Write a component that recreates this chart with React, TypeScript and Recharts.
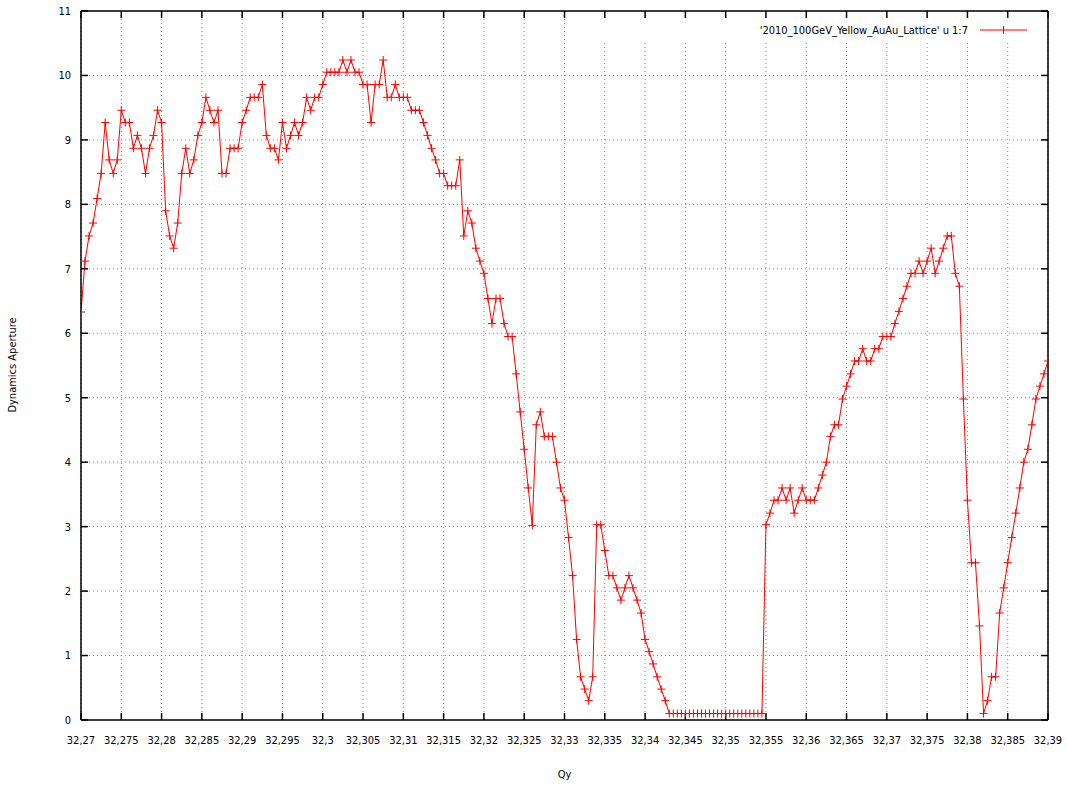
import React from "react";
import { LineChart, Line, XAxis, YAxis, CartesianGrid, Customized } from "recharts";

// tune scan: Qy sampled every 0.0005 from 32.27
const QY_START = 32.27;
const QY_STEP = 0.0005;

// dynamic aperture, one value per Qy sample
const APERTURE = [
  6.33, 7.12, 7.51, 7.71, 8.09, 8.48, 9.27, 8.69, 8.48, 8.69,
  9.46, 9.27, 9.27, 8.87, 9.07, 8.87, 8.48, 8.87, 9.07, 9.46,
  9.27, 7.9, 7.51, 7.32, 7.71, 8.48, 8.87, 8.48, 8.69, 9.07,
  9.27, 9.66, 9.46, 9.27, 9.46, 8.48, 8.48, 8.87, 8.87, 8.87,
  9.27, 9.46, 9.66, 9.66, 9.66, 9.86, 9.07, 8.87, 8.87, 8.69,
  9.27, 8.87, 9.07, 9.27, 9.07, 9.27, 9.66, 9.46, 9.66, 9.66,
  9.86, 10.05, 10.05, 10.05, 10.05, 10.24, 10.05, 10.24, 10.05, 10.05,
  9.86, 9.86, 9.27, 9.86, 9.86, 10.24, 9.66, 9.66, 9.86, 9.66,
  9.66, 9.66, 9.46, 9.46, 9.46, 9.27, 9.07, 8.87, 8.69, 8.48,
  8.48, 8.29, 8.29, 8.29, 8.69, 7.51, 7.9, 7.71, 7.32, 7.12,
  6.93, 6.54, 6.15, 6.54, 6.54, 6.15, 5.95, 5.95, 5.37, 4.78,
  4.2, 3.6, 3.02, 4.58, 4.78, 4.4, 4.4, 4.4, 4.0, 3.6,
  3.41, 2.83, 2.24, 1.25, 0.67, 0.48, 0.3, 0.67, 3.03, 3.03,
  2.63, 2.24, 2.24, 2.05, 1.86, 2.05, 2.24, 2.05, 1.86, 1.66,
  1.25, 1.06, 0.87, 0.67, 0.48, 0.3, 0.1, 0.1, 0.1, 0.1,
  0.1, 0.1, 0.1, 0.1, 0.1, 0.1, 0.1, 0.1, 0.1, 0.1,
  0.1, 0.1, 0.1, 0.1, 0.1, 0.1, 0.1, 0.1, 0.1, 0.1,
  3.03, 3.21, 3.41, 3.41, 3.6, 3.41, 3.6, 3.21, 3.41, 3.6,
  3.41, 3.41, 3.41, 3.6, 3.8, 4.0, 4.4, 4.58, 4.58, 4.98,
  5.18, 5.37, 5.57, 5.57, 5.76, 5.57, 5.57, 5.76, 5.76, 5.95,
  5.95, 5.95, 6.15, 6.34, 6.54, 6.73, 6.93, 6.93, 7.12, 6.93,
  7.12, 7.32, 6.93, 7.12, 7.32, 7.51, 7.51, 6.93, 6.73, 4.98,
  3.41, 2.44, 2.44, 1.46, 0.1, 0.3, 0.67, 0.67, 1.66, 2.05,
  2.44, 2.83, 3.21, 3.6, 4.0, 4.2, 4.58, 4.98, 5.18, 5.37,
  5.57,
];

const X_TICKS = [
  32.27, 32.275, 32.28, 32.285, 32.29, 32.295, 32.3, 32.305, 32.31, 32.315,
  32.32, 32.325, 32.33, 32.335, 32.34, 32.345, 32.35, 32.355, 32.36, 32.365,
  32.37, 32.375, 32.38, 32.385, 32.39,
];
const Y_TICKS = [0, 1, 2, 3, 4, 5, 6, 7, 8, 9, 10, 11];

const SERIES_NAME = "'2010_100GeV_Yellow_AuAu_Lattice' u 1:7";
const X_TITLE = "Qy";
const Y_TITLE = "Dynamics Aperture";

const FONT = '"Liberation Sans Narrow", "DejaVu Sans Condensed", "Liberation Sans", sans-serif';
const RED = "#ff0000";

const data = APERTURE.map((da, i) => ({
  qy: +(QY_START + i * QY_STEP).toFixed(4),
  da,
}));

const fmtQ = (v: number) => String(+v.toFixed(3)).replace(".", ",");
const blank = () => "";

const frame = { stroke: "#000", strokeWidth: 1.5 };
const tickFont = { fontSize: 11, fill: "#000", fontFamily: FONT };

const PlusDot = (props: any) => {
  const { cx, cy, index } = props;
  if (cx == null || cy == null) return <g key={index} />;
  return (
    <path
      key={index}
      d={`M${cx - 4},${cy}h8M${cx},${cy - 4}v8`}
      stroke={RED}
      strokeWidth={1}
      fill="none"
    />
  );
};

// gnuplot style key in the top right corner, plus the rotated y title
const Extras = () => (
  <g fontFamily={FONT} fontSize={11} fill="#000">
    <rect x={585} y={12} width={462} height={31} fill="#fff" />
    <text x={968} y={34} textAnchor="end">
      {SERIES_NAME}
    </text>
    <line x1={980} x2={1027} y1={30} y2={30} stroke={RED} />
    <line x1={1003.5} x2={1003.5} y1={26} y2={34} stroke={RED} />
    <text x={16} y={365} textAnchor="middle" transform="rotate(-90 16 365)">
      {Y_TITLE}
    </text>
  </g>
);

export default function App() {
  return (
    <div style={{ position: "absolute", left: 0, top: 0, background: "#fff" }}>
      <LineChart
        width={1067}
        height={785}
        data={data}
        margin={{ top: 10, right: 18, bottom: 35, left: 0 }}
      >
        <CartesianGrid stroke="#888" strokeDasharray="1 3" />
        <XAxis
          dataKey="qy"
          type="number"
          domain={[32.27, 32.39]}
          ticks={X_TICKS}
          interval={0}
          allowDataOverflow
          tickFormatter={fmtQ}
          height={30}
          tickSize={-7}
          tickMargin={23}
          axisLine={frame}
          tickLine={frame}
          tick={tickFont}
          label={{ value: X_TITLE, position: "insideBottom", offset: -28, fontSize: 11, fill: "#000", fontFamily: FONT }}
        />
        <XAxis
          xAxisId="top"
          dataKey="qy"
          orientation="top"
          type="number"
          domain={[32.27, 32.39]}
          ticks={X_TICKS}
          interval={0}
          allowDataOverflow
          tickFormatter={blank}
          height={1}
          tickSize={-7}
          axisLine={frame}
          tickLine={frame}
        />
        <YAxis
          type="number"
          domain={[0, 11]}
          ticks={Y_TICKS}
          interval={0}
          allowDataOverflow
          width={81}
          tickSize={-7}
          tickMargin={17}
          axisLine={frame}
          tickLine={frame}
          tick={tickFont}
        />
        <YAxis
          yAxisId="right"
          orientation="right"
          type="number"
          domain={[0, 11]}
          ticks={Y_TICKS}
          interval={0}
          allowDataOverflow
          width={1}
          tickFormatter={blank}
          tickSize={-7}
          axisLine={frame}
          tickLine={frame}
        />
        <Customized component={Extras} />
        {/* invisible copy so the mirrored top/right axes have a series */}
        <Line
          xAxisId="top"
          yAxisId="right"
          dataKey="da"
          stroke="none"
          dot={false}
          activeDot={false}
          legendType="none"
          isAnimationActive={false}
        />
        <Line
          dataKey="da"
          stroke={RED}
          strokeWidth={1}
          dot={PlusDot}
          activeDot={false}
          isAnimationActive={false}
        />
      </LineChart>
    </div>
  );
}
